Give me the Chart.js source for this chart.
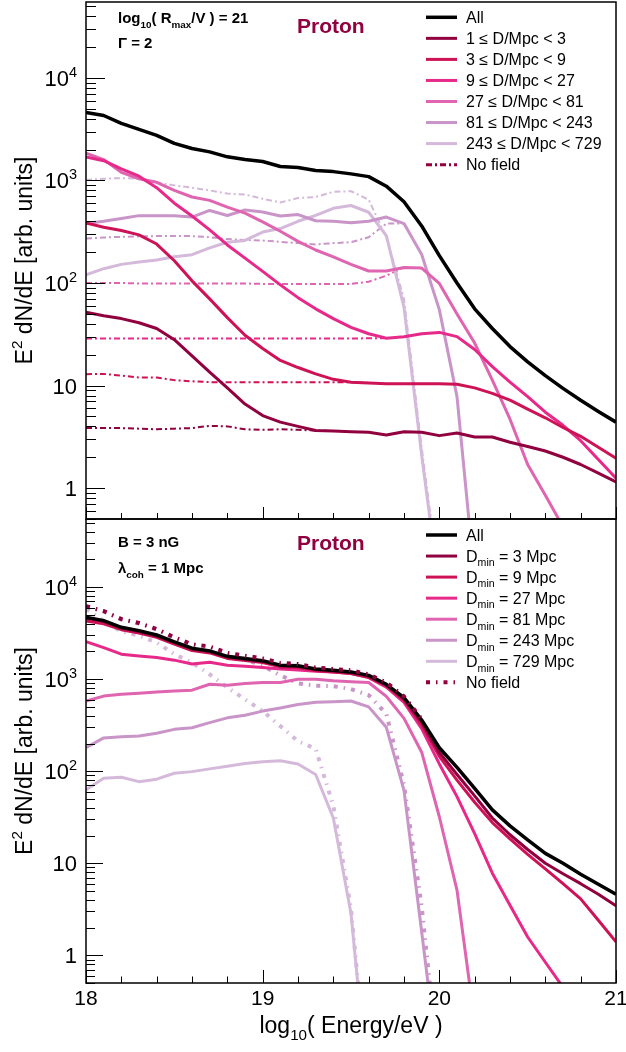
<!DOCTYPE html>
<html>
<head>
<meta charset="utf-8">
<script src="https://cdn.jsdelivr.net/npm/chart.js@4.4.1/dist/chart.umd.min.js"></script>
<style>
	html, body { margin: 0; padding: 0; background: #fff; }
	#wrap { position: relative; width: 626px; height: 1052px; }
	#wrap canvas { position: absolute; left: 0; top: 0; }
</style>
</head>
<body>
<div id="wrap">
	<canvas id="topChart" width="626" height="1052"></canvas>
	<canvas id="bottomChart" width="626" height="1052"></canvas>
</div>
<script>
const energy = [18.0, 18.1, 18.2, 18.3, 18.4, 18.5, 18.6, 18.7, 18.8, 18.9, 19.0, 19.1, 19.2, 19.3, 19.4, 19.5, 19.6, 19.7, 19.8, 19.9, 20.0, 20.1, 20.2, 20.3, 20.4, 20.5, 20.6, 20.7, 20.8, 20.9, 21.0]

// top panel: contributions by source distance
const topAll = [4600, 4300, 3600, 3150, 2750, 2300, 2050, 1900, 1700, 1600, 1530, 1370, 1340, 1250, 1220, 1160, 1090, 880, 620, 360, 185, 100, 56, 36, 24, 17, 12.5, 9.4, 7.2, 5.6, 4.4]
const topD1 = [52, 48, 45, 41, 36, 28, 19.5, 13.5, 9.5, 6.6, 5.1, 4.4, 4.0, 3.65, 3.6, 3.55, 3.5, 3.3, 3.55, 3.5, 3.25, 3.45, 3.15, 3.15, 2.8, 2.55, 2.3, 2.0, 1.7, 1.4, 1.15]
const topD3 = [385, 350, 325, 295, 240, 165, 105, 70, 46, 31, 23, 17.6, 15, 13, 11.5, 10.8, 10.6, 10.4, 10.4, 10.4, 10.4, 10.3, 9.5, 8.4, 7.2, 5.9, 4.85, 3.9, 3.2, 2.5, 1.96]
const topD9 = [1700, 1560, 1300, 1100, 850, 600, 450, 330, 235, 175, 130, 96, 72, 56, 45, 37, 32, 29, 30, 32, 33, 30, 22.5, 15.3, 10.8, 7.8, 5.5, 4.1, 2.9, 1.9, 1.25]
const topD27 = [1850, 1600, 1200, 1040, 960, 800, 690, 640, 550, 480, 395, 320, 255, 210, 180, 152, 131, 131, 142, 140, 99, 50, 26, 11.3, 4.7, 1.7, 0.85, 0.42]
const topD81 = [380, 400, 425, 454, 454, 452, 440, 510, 455, 515, 492, 450, 465, 405, 400, 388, 400, 440, 380, 190, 55, 7.8, 0.13]
const topD243 = [120, 138, 152, 160, 168, 180, 189, 220, 250, 260, 314, 340, 400, 457, 535, 570, 490, 290, 58, 2.1, 0.1]
const topNoField1 = [3.85, 3.85, 3.85, 3.8, 3.75, 3.8, 3.85, 4.05, 4.0, 3.75, 3.7, 3.75, 3.7, 3.65, 3.6]
const topNoField3 = [12.9, 13.0, 12.5, 12.0, 12.0, 11.3, 11.0, 10.8, 10.8, 10.8, 10.8, 10.8, 10.8, 10.8, 10.8, 10.8, 10.6]
const topNoField9 = [28.8, 28.8, 28.7, 28.8, 28.8, 28.7, 28.8, 28.8, 28.7, 28.8, 28.8, 28.7, 28.8, 28.8, 28.7, 28.8, 28.9, 29]
const topNoField27 = [100, 100, 100, 99, 99, 99, 99, 99, 99, 99, 98, 98, 98, 98, 98, 98, 103, 118, 142]
const topNoField81 = [271, 278, 282, 285, 287, 287, 287, 280, 268, 263, 260, 252, 245, 238, 245, 250, 280, 380, 380]
const topNoField243 = [1010, 1040, 1055, 1040, 960, 896, 850, 800, 745, 730, 664, 610, 675, 690, 775, 785, 650, 280, 70, 2.5, 0.12]

// bottom panel: minimum source distance
const botAll = [4700, 4330, 3660, 3370, 3020, 2550, 2170, 2030, 1770, 1680, 1585, 1420, 1400, 1290, 1250, 1200, 1100, 880, 630, 360, 180, 110, 65, 38, 25.5, 18, 12.8, 10, 7.6, 5.9, 4.6]
const botMin3 = [4600, 4250, 3600, 3300, 2950, 2500, 2130, 2000, 1740, 1650, 1560, 1400, 1380, 1270, 1230, 1180, 1080, 860, 610, 345, 160, 92, 54, 31, 20.4, 14.1, 10, 7.7, 6.0, 4.6, 3.45]
const botMin9 = [4300, 4000, 3450, 3180, 2850, 2400, 2050, 1930, 1680, 1600, 1520, 1360, 1340, 1240, 1200, 1150, 1050, 850, 590, 320, 145, 80, 46, 27.7, 18.4, 12.5, 8.7, 6.0, 4.1, 2.4, 1.4]
const botMin27 = [2550, 2200, 1870, 1790, 1720, 1610, 1460, 1530, 1420, 1380, 1340, 1290, 1260, 1220, 1200, 1150, 1040, 820, 560, 290, 120, 53, 21, 7.8, 3.5, 1.58, 0.84, 0.45]
const botMin81 = [580, 655, 685, 705, 725, 745, 760, 880, 860, 900, 920, 920, 1000, 1000, 960, 940, 920, 650, 375, 161, 32, 5.1, 0.19]
const botMin243 = [180, 230, 237, 241, 258, 285, 297, 337, 380, 405, 450, 486, 530, 560, 570, 580, 500, 300, 62, 1.8, 0.05]
const botMin729 = [63, 84, 86, 77, 82, 95, 99, 106, 113, 121, 127, 130, 120, 92, 31, 2.85, 0.03]
const botNoField3 = [6200, 5500, 4500, 4080, 3500, 2850, 2400, 2270, 1930, 1800, 1680, 1500, 1460, 1340, 1290, 1250, 1130, 920, 650, 370]
const botNoField243 = [6150, 5450, 4450, 4030, 3450, 2800, 2350, 2200, 1850, 1650, 1400, 1100, 900, 850, 840, 780, 670, 420, 71, 3.4, 0.05]
const botNoField729 = [5800, 4300, 3300, 2970, 2500, 1870, 1520, 1130, 811, 604, 451, 309, 212, 175, 42, 3.2, 0.03]

const topLabels = ['All', '1 ≤ D/Mpc < 3', '3 ≤ D/Mpc < 9', '9 ≤ D/Mpc < 27', '27 ≤ D/Mpc < 81', '81 ≤ D/Mpc < 243', '243 ≤ D/Mpc < 729', 'No field']
const bottomLabels = ['All', 'D_{min} = 3 Mpc', 'D_{min} = 9 Mpc', 'D_{min} = 27 Mpc', 'D_{min} = 81 Mpc', 'D_{min} = 243 Mpc', 'D_{min} = 729 Mpc', 'No field']

const yTickValues = [1, 10, 100, 1000, 10000]
const yTickLabels = ['1', '10', '10^{2}', '10^{3}', '10^{4}']
const xTickValues = [18, 19, 20, 21]
const xTickLabels = ['18', '19', '20', '21']

const yMin = 0.5
const yMax = 5.5e4
const W = 626
const H = 1052
const FONT = '"Liberation Sans", Arial, Helvetica, sans-serif'

const colAll = '#000000'
const colors = ['#91003f', '#ce1256', '#e7298a', '#df65b0', '#c994c7', '#d4b9da']
const dashTop = [6, 3, 2, 3]
const dashBottom = [4, 6, 1.5, 6]

function series(label, values, color, width, dash, legendRow) {
	return {
		label: label,
		data: values.map((v, i) => ({ x: energy[i], y: v })),
		borderColor: color,
		backgroundColor: color,
		borderWidth: width,
		borderDash: dash || [],
		borderJoinStyle: 'round',
		pointRadius: 0,
		tension: 0,
		fill: false,
		legendRow: legendRow
	}
}

// tiny latex-ish text: _{sub} and ^{sup}
function parseRich(str) {
	return str.split(/(_\{[^}]*\}|\^\{[^}]*\})/).filter(s => s).map(s => {
		if (s.startsWith('_{')) return { t: s.slice(2, -1), m: 'sub' }
		if (s.startsWith('^{')) return { t: s.slice(2, -1), m: 'sup' }
		return { t: s, m: '' }
	})
}

function partFont(p, size, weight) {
	const s = p.m ? size * 0.66 : size
	return weight + ' ' + s.toFixed(1) + 'px ' + FONT
}

function drawRich(ctx, str, x, y, size, weight, color, align) {
	const parts = parseRich(str)
	let total = 0
	parts.forEach(p => {
		ctx.font = partFont(p, size, weight)
		p.w = ctx.measureText(p.t).width
		total += p.w
	})
	let cx = x
	if (align === 'center') cx = x - total / 2
	if (align === 'right') cx = x - total
	ctx.fillStyle = color
	ctx.textAlign = 'left'
	ctx.textBaseline = 'alphabetic'
	parts.forEach(p => {
		ctx.font = partFont(p, size, weight)
		let dy = 0
		if (p.m === 'sub') dy = size * 0.3
		if (p.m === 'sup') dy = -size * 0.42
		ctx.fillText(p.t, cx, y + dy)
		cx += p.w
	})
}

function seg(ctx, x1, y1, x2, y2) {
	ctx.beginPath()
	ctx.moveTo(x1, y1)
	ctx.lineTo(x2, y2)
	ctx.stroke()
}

const rootStyle = {
	id: 'rootStyle',
	afterDraw(chart, args, o) {
		const ctx = chart.ctx
		const a = chart.chartArea
		const xs = chart.scales.x
		const ys = chart.scales.y
		ctx.save()
		ctx.setLineDash([])
		ctx.strokeStyle = '#000'

		// y ticks, pointing inward
		ctx.lineWidth = 1
		for (let d = -1; d <= 4; d++) {
			for (let k = 1; k <= 9; k++) {
				const v = k * Math.pow(10, d)
				if (v < yMin || v > yMax) continue
				const py = Math.round(ys.getPixelForValue(v)) + 0.5
				seg(ctx, a.left, py, a.left + (k === 1 ? o.yMajor : o.yMinor), py)
			}
		}
		yTickValues.forEach((v, i) => {
			const py = ys.getPixelForValue(v)
			drawRich(ctx, yTickLabels[i], 77, py + 8, 22, 'normal', '#000', 'right')
		})

		// x ticks along the bottom edge
		for (let k = 0; k <= 15; k++) {
			const v = 18 + k * 0.2
			const px = Math.round(xs.getPixelForValue(v)) + 0.5
			const major = k % 5 === 0
			seg(ctx, px, a.bottom, px, a.bottom - (major ? o.xMajor : o.xMinor))
		}
		if (o.xLabels) {
			xTickValues.forEach((v, i) => {
				drawRich(ctx, xTickLabels[i], xs.getPixelForValue(v), a.bottom + 22, 21, 'normal', '#000', 'center')
			})
			drawRich(ctx, 'log_{10}( Energy/eV )', (a.left + a.right) / 2, 1033, 23, 'normal', '#000', 'center')
		}

		// frame
		ctx.lineWidth = 1.5
		ctx.strokeRect(a.left, a.top, a.right - a.left, a.bottom - a.top)

		// y title
		ctx.save()
		ctx.translate(32, (a.top + a.bottom) / 2)
		ctx.rotate(-Math.PI / 2)
		drawRich(ctx, 'E^{2} dN/dE [arb. units]', 0, 0, 23, 'normal', '#000', 'center')
		ctx.restore()

		// annotations
		o.texts.forEach(t => drawRich(ctx, t.s, t.x, t.y, t.size, t.weight, t.color, 'left'))

		// legend
		chart.data.datasets.filter(ds => ds.legendRow !== undefined)
			.sort((p, q) => p.legendRow - q.legendRow)
			.forEach(ds => {
				const ry = o.legendY + ds.legendRow * 21.05
				ctx.strokeStyle = ds.borderColor
				ctx.lineWidth = Math.max(ds.borderWidth, 3)
				ctx.setLineDash(ds.borderDash)
				seg(ctx, 426, ry, 457, ry)
				ctx.setLineDash([])
				drawRich(ctx, ds.label, 466, ry + 5.5, 16, 'normal', '#000', 'left')
			})
		ctx.restore()
	}
}

function makeChart(id, datasets, area, deco) {
	return new Chart(document.getElementById(id), {
		type: 'line',
		data: { datasets: datasets },
		options: {
			responsive: false,
			animation: false,
			events: [],
			layout: {
				padding: { left: area.left, top: area.top, right: W - area.right, bottom: H - area.bottom }
			},
			scales: {
				x: { type: 'linear', min: 18, max: 21, display: false },
				y: { type: 'logarithmic', min: yMin, max: yMax, display: false }
			},
			plugins: {
				legend: { display: false },
				tooltip: { enabled: false },
				rootStyle: deco
			}
		},
		plugins: [rootStyle]
	})
}

// first dataset is drawn on top
const topDatasets = [
	series(topLabels[0], topAll, colAll, 3.5, null, 0),
	series(topLabels[1], topD1, colors[0], 3, null, 1),
	series(topLabels[2], topD3, colors[1], 3, null, 2),
	series(topLabels[3], topD9, colors[2], 3, null, 3),
	series(topLabels[4], topD27, colors[3], 3, null, 4),
	series(topLabels[5], topD81, colors[4], 3, null, 5),
	series(topLabels[6], topD243, colors[5], 3, null, 6),
	series(topLabels[7], topNoField1, colors[0], 2, dashTop, 7),
	series(topLabels[7], topNoField3, colors[1], 2, dashTop),
	series(topLabels[7], topNoField9, colors[2], 2, dashTop),
	series(topLabels[7], topNoField27, colors[3], 2, dashTop),
	series(topLabels[7], topNoField81, colors[4], 2, dashTop),
	series(topLabels[7], topNoField243, colors[5], 2, dashTop)
]

const bottomDatasets = [
	series(bottomLabels[7], botNoField3, colors[0], 4, dashBottom, 7),
	series(bottomLabels[0], botAll, colAll, 3.5, null, 0),
	series(bottomLabels[1], botMin3, colors[0], 3, null, 1),
	series(bottomLabels[2], botMin9, colors[1], 3, null, 2),
	series(bottomLabels[3], botMin27, colors[2], 3, null, 3),
	series(bottomLabels[4], botMin81, colors[3], 3, null, 4),
	series(bottomLabels[5], botMin243, colors[4], 3, null, 5),
	series(bottomLabels[6], botMin729, colors[5], 3, null, 6),
	series(bottomLabels[7], botNoField243, colors[4], 4, dashBottom),
	series(bottomLabels[7], botNoField729, colors[5], 4, dashBottom)
]

makeChart('topChart', topDatasets, { left: 86, top: 2, right: 616, bottom: 519 }, {
	yMajor: 19, yMinor: 10, xMajor: 12, xMinor: 6, xLabels: false, legendY: 17.3,
	texts: [
		{ s: 'log_{10}( R_{max}/V ) = 21', x: 118, y: 23, size: 15, weight: 'bold', color: '#000' },
		{ s: 'Γ = 2', x: 118, y: 48, size: 15, weight: 'bold', color: '#000' },
		{ s: 'Proton', x: 297, y: 33, size: 21, weight: 'bold', color: '#91003f' }
	]
})

makeChart('bottomChart', bottomDatasets, { left: 86, top: 519, right: 616, bottom: 983 }, {
	yMajor: 17, yMinor: 9, xMajor: 13, xMinor: 6.5, xLabels: true, legendY: 535,
	texts: [
		{ s: 'B = 3 nG', x: 118, y: 547, size: 15, weight: 'bold', color: '#000' },
		{ s: 'λ_{coh} = 1 Mpc', x: 118, y: 573, size: 15, weight: 'bold', color: '#000' },
		{ s: 'Proton', x: 297, y: 550, size: 21, weight: 'bold', color: '#91003f' }
	]
})
</script>
</body>
</html>
